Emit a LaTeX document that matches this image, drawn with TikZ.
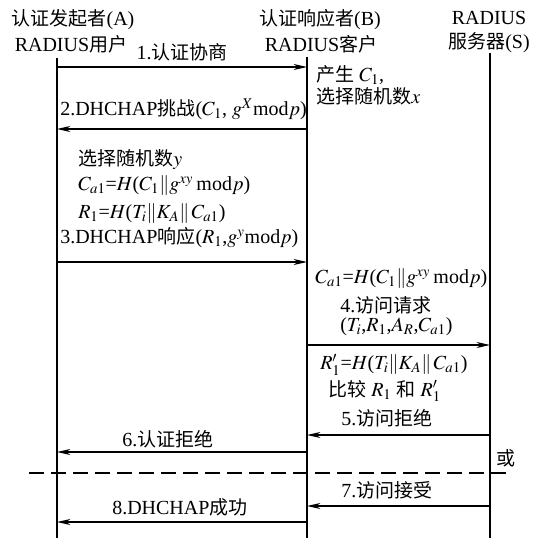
\documentclass[tikz,border=0pt]{standalone}
\usepackage{mathptmx}
\usepackage[no-math]{fontspec}
\setmainfont{Liberation Serif}
\newfontfamily\zh[Scale=0.95]{Noto Sans CJK SC}
\usetikzlibrary{arrows.meta}
\tikzset{
  life/.style={line width=1.1pt},
  msg/.style={line width=1.1pt,-{Stealth[length=10pt,width=4.5pt,inset=3pt]}},
  txt/.style={inner sep=0pt,font=\fontsize{15}{17}\selectfont},
  lbl/.style={txt,anchor=west},
  sep/.style={line width=1.1pt,dash pattern=on 11pt off 5.5pt}
}
\begin{document}
\begin{tikzpicture}[x=0.75pt,y=-0.75pt]
\useasboundingbox (0,0) rectangle (541,538);
% headers
\node[txt] (hA1) at (73,20) {{\zh 认证发起者}(A)};
\node[txt] (hA2) at (71,44) {RADIUS{\zh 用户}};
\node[txt] (hB1) at (320,20) {{\zh 认证响应者}(B)};
\node[txt] (hB2) at (321,44) {RADIUS{\zh 客户}};
\node[txt] (hS1) at (489,18) {RADIUS};
\node[txt] (hS2) at (489,43) {{\zh 服务器}(S)};
% lifelines
\coordinate (A0) at (57,58); \coordinate (A9) at (57,538);
\coordinate (B0) at (307,57); \coordinate (B9) at (307,538);
\coordinate (S0) at (490,53); \coordinate (S9) at (490,538);
\draw[life] (A0) -- (A9);
\draw[life] (B0) -- (B9);
\draw[life] (S0) -- (S9);
% message end points
\coordinate (a1) at (57,67);  \coordinate (b1) at (307,67);
\coordinate (a2) at (57,129); \coordinate (b2) at (307,129);
\coordinate (a3) at (57,262); \coordinate (b3) at (307,262);
\coordinate (b4) at (307,345); \coordinate (s4) at (490,345);
\coordinate (b5) at (307,435); \coordinate (s5) at (490,435);
\coordinate (a6) at (57,452); \coordinate (b6) at (307,452);
\coordinate (b7) at (307,506); \coordinate (s7) at (490,506);
\coordinate (a8) at (57,522); \coordinate (b8) at (307,522);
\coordinate (d0) at (29,473); \coordinate (d1) at (509,473);
% messages
\draw[msg] (a1) -- (b1);
\draw[msg] (b2) -- (a2);
\draw[msg] (a3) -- (b3);
\draw[msg] (b4) -- (s4);
\draw[msg] (s5) -- (b5);
\draw[msg] (b6) -- (a6);
\draw[msg] (s7) -- (b7);
\draw[msg] (b8) -- (a8);
\draw[sep] (d0) -- (d1);
% labels
\node[txt] (l1) at (182,52) {1.{\zh 认证协商}};
\node[lbl] (n1) at (316,75) {{\zh 产生} $C_1$,};
\node[lbl] (n2) at (316,96) {{\zh 选择随机数}$x$};
\node[lbl] (l2) at (60,109) {2.DHCHAP{\zh 挑战}($C_1$, $g^X$mod$p$)};
\node[lbl] (n3) at (78,160) {{\zh 选择随机数}$y$};
\node[lbl] (n4) at (78,186) {$C_{a1}$=$H$($C_1\|g^{xy}$\,mod$p$)};
\node[lbl] (n5) at (78,214) {$R_1$=$H$($T_i\|K_A\|\,C_{a1}$)};
\node[lbl] (l3) at (60,238) {3.DHCHAP{\zh 响应}($R_1$,$g^y$mod$p$)};
\node[lbl] (n6) at (315,279) {$C_{a1}$=$H$($C_1\|g^{xy}$\,mod$p$)};
\node[lbl] (l4a) at (340,305) {4.{\zh 访问请求}};
\node[lbl] (l4b) at (340,327) {($T_i$,$R_1$,$A_R$,$C_{a1}$)};
\node[lbl] (n7) at (320,365) {$R'_1$=$H$($T_i\|K_A\|\,C_{a1}$)};
\node[lbl] (n8) at (328,391) {{\zh 比较} $R_1$ {\zh 和} $R'_1$};
\node[lbl] (l5) at (341,418) {5.{\zh 访问拒绝}};
\node[lbl] (l6) at (122,439) {6.{\zh 认证拒绝}};
\node[txt] (or) at (506,458) {\zh 或};
\node[lbl] (l7) at (341,490) {7.{\zh 访问接受}};
\node[lbl] (l8) at (112,507) {8.DHCHAP{\zh 成功}};
\end{tikzpicture}
\end{document}
